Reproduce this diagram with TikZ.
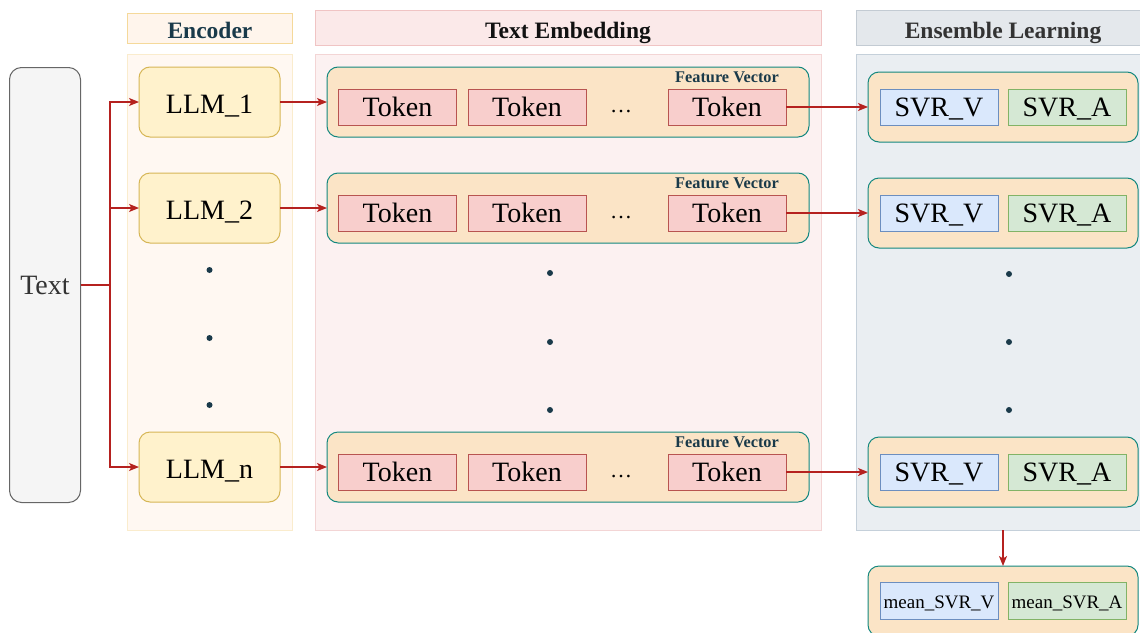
\documentclass[tikz,border=0pt]{standalone}
\usepackage{fontspec}
\setmainfont{Liberation Serif}
\usetikzlibrary{arrows.meta}

\definecolor{arrowred}{HTML}{B5211F}
\definecolor{darkteal}{HTML}{1A3A4A}
\definecolor{tealline}{HTML}{12877F}
\definecolor{fvfill}{HTML}{FBE4C6}
\definecolor{encHeadFill}{HTML}{FFF5EC}
\definecolor{encHeadLine}{HTML}{F5D99A}
\definecolor{encPanelFill}{HTML}{FFF8F2}
\definecolor{encPanelLine}{HTML}{FAECCD}
\definecolor{embHeadFill}{HTML}{FBE9E9}
\definecolor{embHeadLine}{HTML}{F0C4C4}
\definecolor{embPanelFill}{HTML}{FCF1F1}
\definecolor{embPanelLine}{HTML}{F3D5D5}
\definecolor{ensHeadFill}{HTML}{E4E8EC}
\definecolor{ensHeadLine}{HTML}{C3CBD3}
\definecolor{ensPanelFill}{HTML}{EAEEF2}
\definecolor{ensPanelLine}{HTML}{C5D0DA}
\definecolor{inFill}{HTML}{F5F5F5}
\definecolor{inLine}{HTML}{666666}
\definecolor{grayText}{HTML}{333333}
\definecolor{nearBlack}{HTML}{111111}
\definecolor{llmFill}{HTML}{FFF2CC}
\definecolor{llmLine}{HTML}{D6B656}
\definecolor{tokFill}{HTML}{F8CECC}
\definecolor{tokLine}{HTML}{B85450}
\definecolor{vFill}{HTML}{DAE8FC}
\definecolor{vLine}{HTML}{6C8EBF}
\definecolor{aFill}{HTML}{D5E8D4}
\definecolor{aLine}{HTML}{82B366}

\tikzset{
  x=1pt, y=-1pt,
  % text height sets how far below the centre the baseline sits (half of it)
  box/.style={rectangle, inner sep=0pt, outer sep=0pt, line width=1pt, align=center,
    text height=19pt, text depth=0pt},
  bigtext/.style={font=\fontsize{28}{32}\selectfont},
  headtext/.style={inner sep=0pt, text height=20.5pt, text depth=0pt,
    font=\fontsize{23.5}{26}\selectfont\bfseries},
  encHeadBox/.style={box, fill=encHeadFill, draw=encHeadLine},
  encPanelBox/.style={box, fill=encPanelFill, draw=encPanelLine},
  embHeadBox/.style={box, fill=embHeadFill, draw=embHeadLine},
  embPanelBox/.style={box, fill=embPanelFill, draw=embPanelLine},
  ensHeadBox/.style={box, fill=ensHeadFill, draw=ensHeadLine},
  ensPanelBox/.style={box, fill=ensPanelFill, draw=ensPanelLine},
  inputbox/.style={box, bigtext, text height=18pt, rounded corners=12pt,
    fill=inFill, draw=inLine, text=grayText},
  llmbox/.style={box, bigtext, text height=22.5pt, rounded corners=11pt,
    fill=llmFill, draw=llmLine, minimum width=141pt, minimum height=70pt},
  groupbox/.style={box, rounded corners=11pt, fill=fvfill, draw=tealline,
    minimum height=70pt},
  tokenbox/.style={box, bigtext, text height=18pt, fill=tokFill, draw=tokLine,
    minimum width=118pt, minimum height=36pt},
  svrv/.style={box, bigtext, text height=19.5pt, fill=vFill, draw=vLine,
    minimum width=118pt, minimum height=36pt},
  svra/.style={box, bigtext, text height=19.5pt, fill=aFill, draw=aLine,
    minimum width=118pt, minimum height=36pt},
  smalltext/.style={font=\fontsize{19}{22}\selectfont, text height=14.6pt},
  fvlabel/.style={inner sep=0pt, anchor=base, text=darkteal,
    font=\fontsize{16.3}{18}\selectfont\bfseries},
  ellip/.style={inner sep=0pt, anchor=base, font=\fontsize{22}{24}\selectfont},
  vdot/.style={circle, fill=darkteal, inner sep=0pt, minimum size=6pt},
  link/.style={draw=arrowred, line width=1.3pt},
  arrow/.style={link, -{Stealth[length=10pt, width=8pt, inset=2.5pt]}}
}

\begin{document}
\begin{tikzpicture}
\useasboundingbox (0,0) rectangle (1140,632);

% ---- column panels and headers ----
\node[encHeadBox, minimum width=164.5pt, minimum height=30pt] (encHead) at (209.75,28) {};
\node[headtext, text=darkteal] (encTitle) at (210,28) {Encoder};
\node[encPanelBox, minimum width=164.5pt, minimum height=476pt] (encPanel) at (209.75,292) {};

\node[embHeadBox, minimum width=506pt, minimum height=35pt] (embHead) at (568,27.5) {};
\node[headtext, text=nearBlack] (embTitle) at (568,28) {Text Embedding};
\node[embPanelBox, minimum width=506pt, minimum height=476pt] (embPanel) at (568,292) {};

\node[ensHeadBox, minimum width=285pt, minimum height=35pt] (ensHead) at (998.5,27.5) {};
\node[headtext, text=grayText] (ensTitle) at (1003,28) {Ensemble Learning};
\node[ensPanelBox, minimum width=285pt, minimum height=476pt] (ensPanel) at (998.5,292) {};

% ---- input ----
\node[inputbox, minimum width=71pt, minimum height=435pt] (txt) at (45,285) {Text};

% ---- encoders ----
\node[llmbox] (llm1) at (209.5,102) {LLM\_1};
\node[llmbox] (llm2) at (209.5,208) {LLM\_2};
\node[llmbox] (llmn) at (209.5,467) {LLM\_n};
\node[vdot] (ed1) at (209.5,270) {};
\node[vdot] (ed2) at (209.5,338) {};
\node[vdot] (ed3) at (209.5,405) {};

% ---- feature vectors ----
\foreach \r/\gy/\ty in {1/102/107, 2/208/213, n/467/472} {
  \node[groupbox, minimum width=482pt] (fv\r) at (568,\gy) {};
  \node[fvlabel] (fvl\r) at (727,\gy-19.5) {Feature Vector};
  \node[tokenbox] (tokA\r) at (397.5,\ty) {Token};
  \node[tokenbox] (tokB\r) at (527,\ty) {Token};
  \node[ellip] (tokdots\r) at (621,\ty+5) {\dots};
  \node[tokenbox] (tokC\r) at (727,\ty) {Token};
}
\node[vdot] (md1) at (550,273) {};
\node[vdot] (md2) at (550,342) {};
\node[vdot] (md3) at (550,410) {};

% ---- regressors ----
\foreach \r/\gy in {1/107, 2/213, n/472} {
  \node[groupbox, minimum width=270pt] (grp\r) at (1003,\gy) {};
  \node[svrv] (svrv\r) at (939,\gy) {SVR\_V};
  \node[svra] (svra\r) at (1067,\gy) {SVR\_A};
}
\node[vdot] (sd1) at (1009,274) {};
\node[vdot] (sd2) at (1009,342) {};
\node[vdot] (sd3) at (1009,410) {};

% ---- averaged output ----
\node[groupbox, minimum width=270pt] (meanGrp) at (1003,601) {};
\node[svrv, smalltext, minimum height=37pt] (meanV) at (939,601) {mean\_SVR\_V};
\node[svra, smalltext, minimum height=37pt] (meanA) at (1067,601) {mean\_SVR\_A};

% ---- connectors ----
\coordinate (split) at (110,285);
\draw[link] (txt.east) -- (split);
\draw[arrow] (split) |- (llm1.west);
\draw[arrow] (split) |- (llm2.west);
\draw[arrow] (split) |- (llmn.west);

\draw[arrow] (llm1.east) -- (fv1.west);
\draw[arrow] (llm2.east) -- (fv2.west);
\draw[arrow] (llmn.east) -- (fvn.west);

\draw[arrow] (tokC1.east) -- (grp1.west);
\draw[arrow] (tokC2.east) -- (grp2.west);
\draw[arrow] (tokCn.east) -- (grpn.west);

\draw[arrow] (meanGrp.north |- ensPanel.south) -- (meanGrp.north);
\end{tikzpicture}
\end{document}
